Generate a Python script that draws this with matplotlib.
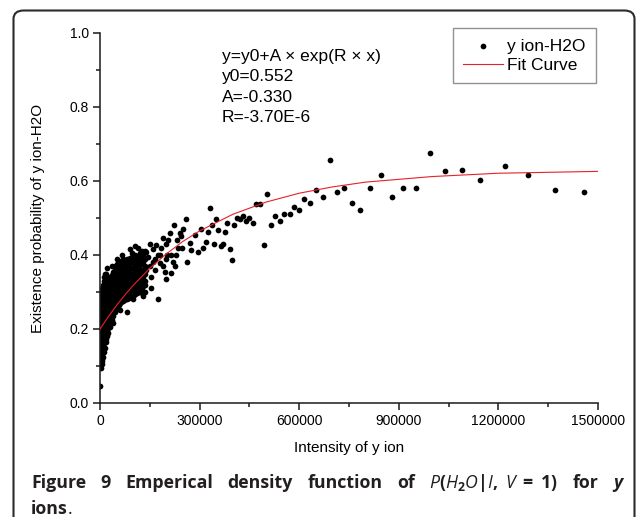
import numpy as np
import matplotlib
matplotlib.use("Agg")
import matplotlib.pyplot as plt
from matplotlib.patches import FancyBboxPatch, Rectangle

plt.rcParams['font.family'] = ['Liberation Sans', 'DejaVu Sans']
plt.rcParams['mathtext.fontset'] = 'custom'
plt.rcParams['mathtext.rm'] = 'Open Sans:bold'
plt.rcParams['mathtext.it'] = 'Open Sans:italic'
plt.rcParams['mathtext.bf'] = 'Open Sans:bold'

# dense cloud near zero intensity, read column by column (x -> y values)
dense_cols_x = [0, 5000, 10000, 16000, 22000, 29000, 36000, 44000, 52000,
                60000, 69000, 78000, 87000, 96000, 106000, 116000, 126000, 136000]
dense_cols_y = [
    [0.046, 0.10, 0.115, 0.13, 0.14, 0.155, 0.17, 0.18, 0.195, 0.21, 0.22, 0.235, 0.25, 0.26, 0.275],
    [0.105, 0.12, 0.135, 0.15, 0.16, 0.175, 0.19, 0.20, 0.215, 0.23, 0.24, 0.255, 0.27, 0.285, 0.30],
    [0.125, 0.14, 0.155, 0.17, 0.185, 0.20, 0.21, 0.225, 0.24, 0.25, 0.265, 0.28, 0.29, 0.305, 0.32],
    [0.15, 0.165, 0.18, 0.195, 0.21, 0.22, 0.235, 0.25, 0.26, 0.275, 0.29, 0.30, 0.315, 0.33, 0.35],
    [0.18, 0.195, 0.21, 0.225, 0.24, 0.25, 0.265, 0.28, 0.29, 0.305, 0.32, 0.335],
    [0.205, 0.22, 0.235, 0.25, 0.26, 0.275, 0.29, 0.30, 0.315, 0.33, 0.34],
    [0.225, 0.24, 0.255, 0.265, 0.28, 0.295, 0.31, 0.32, 0.335, 0.345],
    [0.245, 0.26, 0.275, 0.29, 0.30, 0.315, 0.33, 0.345, 0.36, 0.37],
    [0.26, 0.275, 0.29, 0.305, 0.32, 0.33, 0.345, 0.36, 0.375],
    [0.27, 0.285, 0.30, 0.31, 0.325, 0.34, 0.355, 0.365, 0.38],
    [0.275, 0.29, 0.305, 0.32, 0.335, 0.35, 0.36, 0.375, 0.39],
    [0.28, 0.295, 0.31, 0.325, 0.34, 0.355, 0.37, 0.385],
    [0.285, 0.30, 0.315, 0.33, 0.345, 0.36, 0.375, 0.39],
    [0.29, 0.305, 0.32, 0.335, 0.35, 0.365, 0.38, 0.395, 0.405],
    [0.295, 0.31, 0.325, 0.34, 0.355, 0.37, 0.385, 0.40],
    [0.30, 0.32, 0.335, 0.35, 0.37, 0.385, 0.40],
    [0.31, 0.33, 0.345, 0.36, 0.38, 0.40, 0.41],
    [0.30, 0.33, 0.35, 0.37, 0.39, 0.41],
]
# second pass over the same cloud, between the columns above
dense2_cols_x = [2500, 7500, 13000, 19000, 25500, 32500, 40000, 48000, 56000,
                 64500, 73500, 82500, 91500, 101000, 111000, 121000, 131000]
dense2_cols_y = [
    [0.095, 0.108, 0.122, 0.137, 0.148, 0.163, 0.178, 0.188, 0.203, 0.217, 0.228, 0.243, 0.257, 0.268, 0.283, 0.295],
    [0.113, 0.128, 0.143, 0.157, 0.168, 0.183, 0.196, 0.208, 0.222, 0.236, 0.247, 0.262, 0.277, 0.290, 0.310],
    [0.138, 0.148, 0.163, 0.178, 0.192, 0.205, 0.217, 0.232, 0.246, 0.258, 0.272, 0.286, 0.298, 0.312, 0.330],
    [0.165, 0.173, 0.188, 0.203, 0.217, 0.228, 0.243, 0.257, 0.268, 0.283, 0.297, 0.310, 0.325, 0.340],
    [0.190, 0.203, 0.218, 0.232, 0.245, 0.258, 0.272, 0.285, 0.298, 0.312, 0.328],
    [0.215, 0.228, 0.243, 0.257, 0.268, 0.283, 0.297, 0.308, 0.322, 0.337],
    [0.235, 0.250, 0.262, 0.273, 0.287, 0.302, 0.316, 0.328, 0.342, 0.355],
    [0.253, 0.268, 0.283, 0.297, 0.308, 0.322, 0.338, 0.352, 0.366],
    [0.265, 0.282, 0.297, 0.308, 0.317, 0.337, 0.350, 0.362, 0.378],
    [0.272, 0.288, 0.302, 0.316, 0.330, 0.345, 0.357, 0.370, 0.385],
    [0.278, 0.292, 0.308, 0.322, 0.338, 0.352, 0.366, 0.380],
    [0.282, 0.298, 0.312, 0.328, 0.342, 0.357, 0.372, 0.388],
    [0.288, 0.302, 0.318, 0.332, 0.348, 0.362, 0.378, 0.392],
    [0.292, 0.308, 0.322, 0.338, 0.352, 0.368, 0.382, 0.398],
    [0.298, 0.315, 0.330, 0.345, 0.362, 0.378, 0.392],
    [0.305, 0.325, 0.340, 0.355, 0.372, 0.390, 0.405],
    [0.315, 0.340, 0.360, 0.380, 0.400],
]

# ragged points around the edge of the cloud
edge_x = [20000, 35000, 50000, 65000, 90000, 105000, 115000, 40000, 60000, 100000, 130000, 12000]
edge_y = [0.365, 0.370, 0.390, 0.400, 0.415, 0.425, 0.418, 0.215, 0.252, 0.280, 0.288, 0.340]

# scattered points 0 - 300000
mid_x = [17000, 80000, 120000, 128000, 140000, 140000, 135000, 128000, 155000, 160000,
         165000, 155000, 170000, 180000, 180000, 175000, 190000, 190000, 195000, 200000,
         205000, 215000, 215000, 220000, 223000, 232000, 235000, 245000, 248000, 259000,
         263000, 270000, 275000, 150000, 160000, 185000, 200000, 210000, 240000, 250000,
         230000, 200000, 145000, 175000, 150000, 165000, 225000, 203000]
mid_y = [0.350, 0.246, 0.360, 0.382, 0.409, 0.359, 0.320, 0.296, 0.310, 0.382,
         0.359, 0.341, 0.427, 0.400, 0.378, 0.281, 0.445, 0.369, 0.355, 0.335,
         0.441, 0.400, 0.351, 0.382, 0.481, 0.441, 0.418, 0.451, 0.418, 0.496,
         0.382, 0.432, 0.413, 0.430, 0.415, 0.420, 0.430, 0.460, 0.460, 0.470,
         0.400, 0.390, 0.395, 0.400, 0.370, 0.390, 0.369, 0.400]

# scattered points 285000 - 600000
upper_x = [285000, 295000, 303000, 310000, 318000, 331000, 325000, 337000, 343000, 349000,
           355000, 363000, 369000, 376000, 382000, 391000, 398000, 405000, 413000, 422000,
           431000, 440000, 450000, 461000, 471000, 481000, 493000, 503000, 515000, 528000,
           542000, 555000, 571000, 585000]
upper_y = [0.454, 0.409, 0.470, 0.420, 0.436, 0.526, 0.461, 0.481, 0.431, 0.496,
           0.467, 0.425, 0.431, 0.461, 0.486, 0.416, 0.386, 0.481, 0.500, 0.496,
           0.505, 0.491, 0.501, 0.486, 0.537, 0.537, 0.426, 0.566, 0.481, 0.506,
           0.491, 0.511, 0.511, 0.531]

# sparse tail
tail_x = [600000, 615000, 633000, 652000, 672000, 693000, 713000, 735000, 760000, 784000,
          814000, 847000, 879000, 914000, 953000, 995000, 1039000, 1091000, 1144000, 1219000,
          1289000, 1371000, 1459000]
tail_y = [0.522, 0.551, 0.541, 0.576, 0.556, 0.657, 0.571, 0.581, 0.541, 0.522,
          0.581, 0.616, 0.556, 0.581, 0.581, 0.677, 0.626, 0.631, 0.602, 0.641,
          0.616, 0.577, 0.571]

# fit curve
fit_x = [0, 25000, 50000, 75000, 100000, 150000, 200000, 250000, 300000, 400000,
         500000, 600000, 700000, 800000, 1000000, 1200000, 1500000]
fit_y = [0.200, 0.233, 0.264, 0.292, 0.318, 0.364, 0.403, 0.437, 0.465, 0.510,
         0.543, 0.567, 0.584, 0.597, 0.612, 0.621, 0.626]

xticks = [0, 300000, 600000, 900000, 1200000, 1500000]
xticklabels = ['0', '300000', '600000', '900000', '1200000', '1500000']
yticks = [0.0, 0.2, 0.4, 0.6, 0.8, 1.0]
yticklabels = ['0.0', '0.2', '0.4', '0.6', '0.8', '1.0']
fit_text = ['y=y0+A \u00d7 exp(R \u00d7 x)', 'y0=0.552', 'A=-0.330', 'R=-3.70E-6']

W, H = 638, 526
fig = plt.figure(figsize=(W / 100, H / 100), dpi=100)

# rounded frame around figure (bottom runs off the page)
frame = FancyBboxPatch((13.5 / W, -0.2), 621 / W, 0.2 + 1 - 10.5 / H,
                       boxstyle="round,pad=0,rounding_size=0.016",
                       transform=fig.transFigure, fill=False,
                       edgecolor='#2b2b2b', linewidth=1.5)
fig.patches.append(frame)
fig.patches.append(Rectangle((0, 0), 1, 9 / H, transform=fig.transFigure,
                             facecolor='white', edgecolor='none', zorder=5))

ax = fig.add_axes([100 / W, 1 - 403 / H, 498 / W, 370 / H])

all_x = []
all_y = []
for cx, cys in zip(dense_cols_x + dense2_cols_x, dense_cols_y + dense2_cols_y):
    all_x += [cx] * len(cys)
    all_y += cys
all_x += edge_x + mid_x + upper_x + tail_x
all_y += edge_y + mid_y + upper_y + tail_y

ax.scatter(all_x, all_y, s=17, color='black', linewidths=0, zorder=2, label='y ion-H2O')
ax.plot(fit_x, fit_y, color='#e8202a', linewidth=0.8, zorder=3, label='Fit Curve')

ax.set_xlim(0, 1500000)
ax.set_ylim(0, 1.0)
ax.set_xticks(xticks)
ax.set_xticklabels(xticklabels)
ax.set_yticks(yticks)
ax.set_yticklabels(yticklabels)
ax.set_xticks([150000, 450000, 750000, 1050000, 1350000], minor=True)
ax.set_yticks([0.1, 0.3, 0.5, 0.7, 0.9], minor=True)
ax.tick_params(which='major', direction='out', length=5, width=1.1, labelsize=10,
               color='#1a1a1a', pad=3)
ax.tick_params(which='minor', direction='out', length=3, width=1.1, color='#1a1a1a')
for side in ['top', 'right']:
    ax.spines[side].set_visible(False)
for side in ['left', 'bottom']:
    ax.spines[side].set_linewidth(1.1)
    ax.spines[side].set_color('#1a1a1a')

ax.set_xlabel('Intensity of y ion', fontsize=11, va='center')
ax.xaxis.set_label_coords(0.5, -(448 - 403) / 370)
ax.set_ylabel('Existence probability of y ion-H2O', fontsize=11, va='center', ha='center')
ax.yaxis.set_label_coords((38 - 100) / 498, 0.5)

for i, line in enumerate(fit_text):
    py = [57, 77, 97, 118][i]
    ax.text((222 - 100) / 498, (403 - py) / 370, line, fontsize=12.5,
            va='center', ha='left', transform=ax.transAxes)

leg = ax.legend(loc='upper right', bbox_to_anchor=(596 / W, 1 - 28 / H),
                bbox_transform=fig.transFigure, borderaxespad=0, fontsize=12.5,
                frameon=True, fancybox=False, edgecolor='#777777',
                borderpad=0.6, labelspacing=0.25, handlelength=2.3,
                handletextpad=0.25, markerscale=1.0, scatterpoints=1)
leg.get_frame().set_linewidth(1.0)

# caption, justified across the first line
cap_color = '#231f20'
bold = dict(fontsize=12.8, fontweight='bold', family=['Open Sans', 'DejaVu Sans'], color=cap_color)
bolditalic = dict(bold, style='italic')
line1 = [('Figure', bold), ('9', bold), ('Emperical', bold), ('density', bold),
         ('function', bold), ('of', bold),
         (r'$P(H_2O|I,\ V\;=\;1)$', dict(fontsize=12.8, color=cap_color)),
         ('for', bold), ('y', bolditalic)]

fig.canvas.draw()
renderer = fig.canvas.get_renderer()
texts = [fig.text(0, 1 - 488 / H, w, va='baseline', ha='left', **kw) for w, kw in line1]
widths = [t.get_window_extent(renderer).width for t in texts]
x0, x1 = 31, 622
gap = (x1 - x0 - sum(widths)) / (len(texts) - 1)
xpos = x0
for t, wd in zip(texts, widths):
    t.set_x(xpos / W)
    xpos += wd + gap

t_ions = fig.text(31 / W, 1 - 514 / H, 'ions', va='baseline', ha='left', **bold)
w_ions = t_ions.get_window_extent(renderer).width
fig.text((31 + w_ions) / W, 1 - 514 / H, '.', va='baseline', ha='left',
         fontsize=12.8, family=['Open Sans', 'DejaVu Sans'], color=cap_color)

fig.savefig('out.png', dpi=100)
